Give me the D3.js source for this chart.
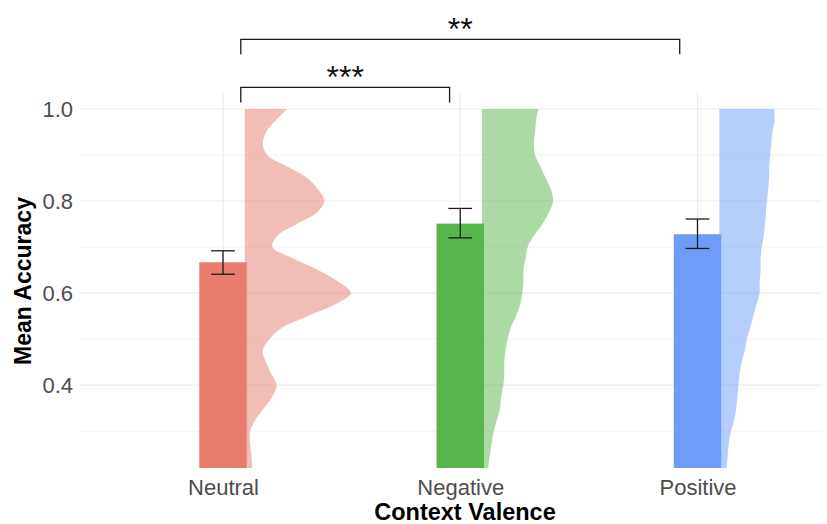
<!DOCTYPE html>
<html><head><meta charset="utf-8">
<script src="https://cdn.jsdelivr.net/npm/d3@7"></script>
<style>body{margin:0;background:#fff} svg{display:block}</style>
</head><body><svg id="chart" width="827" height="524"></svg>
<script>
// ---- data ----
const categories = ["Neutral", "Negative", "Positive"];
const meanAccuracy = [0.667, 0.751, 0.728];
const ciLower = [0.641, 0.720, 0.697];
const ciUpper = [0.692, 0.784, 0.761];
const barColors = ["#E77C6F", "#57B64B", "#6D9DF8"];

const yTicks = [0.4, 0.6, 0.8, 1.0];
const yMinorTicks = [0.3, 0.5, 0.7, 0.9];

// density profiles: accuracy levels and relative density read at each level
const densityGrid = [1.000, 0.975, 0.950, 0.925, 0.900, 0.875, 0.850, 0.825, 0.800, 0.775, 0.750, 0.725, 0.700, 0.675, 0.650, 0.625, 0.600, 0.575, 0.550, 0.525, 0.500, 0.475, 0.450, 0.425, 0.400, 0.375, 0.350, 0.325, 0.300, 0.275, 0.250, 0.225, 0.200];
const neutralDensity  = [0.40, 0.29, 0.20, 0.17, 0.21, 0.40, 0.59, 0.69, 0.75, 0.68, 0.49, 0.31, 0.26, 0.46, 0.69, 0.88, 1.00, 0.85, 0.59, 0.35, 0.23, 0.17, 0.20, 0.25, 0.30, 0.26, 0.18, 0.10, 0.05, 0.05, 0.06, 0.07, 0.08];
const negativeDensity = [0.53, 0.51, 0.50, 0.49, 0.50, 0.55, 0.60, 0.65, 0.67, 0.63, 0.57, 0.49, 0.43, 0.41, 0.39, 0.39, 0.38, 0.36, 0.32, 0.27, 0.24, 0.22, 0.21, 0.21, 0.20, 0.18, 0.17, 0.14, 0.11, 0.09, 0.075, 0.06, 0.05];
const positiveDensity = [0.52, 0.52, 0.50, 0.49, 0.48, 0.47, 0.47, 0.46, 0.45, 0.44, 0.43, 0.42, 0.40, 0.39, 0.39, 0.38, 0.38, 0.35, 0.32, 0.29, 0.26, 0.24, 0.21, 0.19, 0.18, 0.17, 0.16, 0.14, 0.11, 0.09, 0.08, 0.07, 0.06];

// significance brackets (positions in category units)
const bracketStart = [1.075, 1.075];
const bracketEnd = [1.955, 2.925];
const bracketTop = [1.047, 1.1515];
const bracketTip = [1.014, 1.119];
const bracketLabels = ["***", "**"];

// ---- layout ----
const svg = d3.select("#chart");
const panel = {left: 80, right: 822, top: 92, bottom: 468};
const font = "'Liberation Sans', Arial, Helvetica, sans-serif";

const x = d3.scaleLinear().domain([1, 3]).range([223, 697.5]);
const y = d3.scaleLinear().domain([0.22, 1.037]).range([panel.bottom, panel.top]);
const w = d3.scaleLinear().domain([0, 1]).range([0, 106]);
const barHalf = 0.1, capHalf = 0.05, nudge = 0.092;

// grid
const grid = svg.append("g");
grid.selectAll("line.minor").data(yMinorTicks).join("line")
  .attr("x1", panel.left).attr("x2", panel.right)
  .attr("y1", d => y(d)).attr("y2", d => y(d))
  .attr("stroke", "#F2F2F2").attr("stroke-width", 1);
grid.selectAll("line.major").data(yTicks).join("line")
  .attr("x1", panel.left).attr("x2", panel.right)
  .attr("y1", d => y(d)).attr("y2", d => y(d))
  .attr("stroke", "#EBEBEB").attr("stroke-width", 1.1);
grid.selectAll("line.vx").data(categories).join("line")
  .attr("x1", (d, i) => x(i + 1)).attr("x2", (d, i) => x(i + 1))
  .attr("y1", panel.top).attr("y2", panel.bottom)
  .attr("stroke", "#EBEBEB").attr("stroke-width", 1.1);

svg.append("clipPath").attr("id", "clip").append("rect")
  .attr("x", panel.left).attr("y", panel.top)
  .attr("width", panel.right - panel.left).attr("height", panel.bottom - panel.top);

const plot = svg.append("g").attr("clip-path", "url(#clip)");

// bars
plot.selectAll("rect.bar").data(meanAccuracy).join("rect")
  .attr("x", (d, i) => x(i + 1 - barHalf))
  .attr("width", (d, i) => x(i + 1 + barHalf) - x(i + 1 - barHalf))
  .attr("y", d => y(d))
  .attr("height", d => y(0) - y(d))
  .attr("fill", (d, i) => barColors[i]);

// half violins
const densities = [neutralDensity, negativeDensity, positiveDensity];
densities.forEach((dens, i) => {
  const prof = densityGrid.map((a, k) => ({a, d: dens[k]}));
  const base = x(i + 1 + nudge);
  const area = d3.area().curve(d3.curveCatmullRom)
    .y(p => y(p.a)).x0(base).x1(p => base + w(p.d));
  plot.append("path").datum(prof).attr("d", area)
    .attr("fill", barColors[i]).attr("fill-opacity", 0.5);
});

// error bars
const eb = svg.append("g").attr("stroke", "#1a1a1a").attr("stroke-width", 1.3).attr("fill", "none");
categories.forEach((c, i) => {
  const cx = x(i + 1);
  eb.append("line").attr("x1", cx).attr("x2", cx).attr("y1", y(ciLower[i])).attr("y2", y(ciUpper[i]));
  eb.append("line").attr("x1", x(i + 1 - capHalf)).attr("x2", x(i + 1 + capHalf)).attr("y1", y(ciLower[i])).attr("y2", y(ciLower[i]));
  eb.append("line").attr("x1", x(i + 1 - capHalf)).attr("x2", x(i + 1 + capHalf)).attr("y1", y(ciUpper[i])).attr("y2", y(ciUpper[i]));
});

// significance brackets
const br = svg.append("g");
bracketLabels.forEach((lab, k) => {
  const x0 = x(bracketStart[k]), x1 = x(bracketEnd[k]);
  const yt = y(bracketTop[k]), yb = y(bracketTip[k]);
  br.append("path")
    .attr("d", `M${x0},${yb}L${x0},${yt}L${x1},${yt}L${x1},${yb}`)
    .attr("fill", "none").attr("stroke", "#1a1a1a").attr("stroke-width", 1.3);
  br.append("text").attr("x", (x0 + x1) / 2).attr("y", yt + 1)
    .attr("text-anchor", "middle").attr("font-family", font).attr("font-size", 32)
    .attr("fill", "#111").text(lab);
});

// axes
const yAxis = svg.append("g").attr("transform", `translate(${panel.left},0)`)
  .call(d3.axisLeft(y).tickValues(yTicks).tickFormat(d3.format(".1f")).tickSize(0).tickPadding(7));
yAxis.select(".domain").remove();
yAxis.selectAll("text").attr("font-family", font).attr("font-size", 22).attr("fill", "#4D4D4D");

const xAxis = svg.append("g").attr("transform", `translate(0,${panel.bottom})`)
  .call(d3.axisBottom(x).tickValues([1, 2, 3]).tickFormat(i => categories[i - 1]).tickSize(0).tickPadding(11));
xAxis.select(".domain").remove();
xAxis.selectAll("text").attr("font-family", font).attr("font-size", 22).attr("fill", "#4D4D4D");

// titles
svg.append("text").attr("x", 465).attr("y", 520).attr("text-anchor", "middle")
  .attr("font-family", font).attr("font-size", 23.5).attr("font-weight", "bold").attr("fill", "#000")
  .text("Context Valence");
svg.append("text").attr("transform", "translate(31,281) rotate(-90)").attr("text-anchor", "middle")
  .attr("font-family", font).attr("font-size", 23).attr("font-weight", "bold").attr("fill", "#000")
  .text("Mean Accuracy");
</script></body></html>
